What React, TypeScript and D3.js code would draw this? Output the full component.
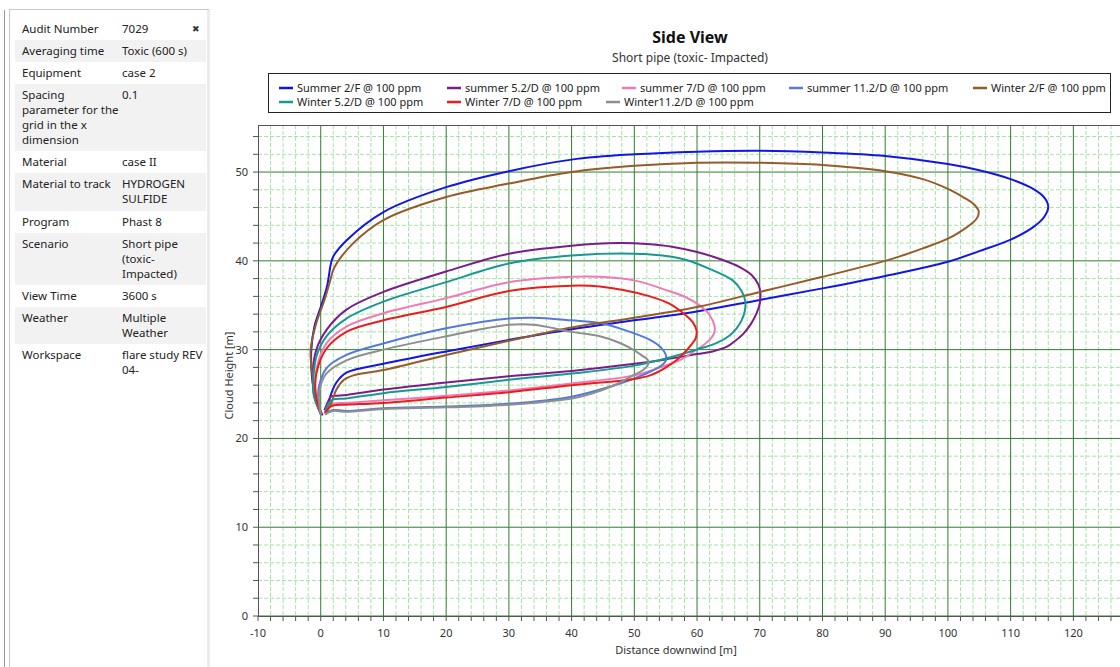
import React from "react";
import * as d3 from "d3";

// ---------- data ----------
const seriesNames = [
  "Summer 2/F @ 100 ppm",
  "summer 5.2/D @ 100 ppm",
  "summer 7/D @ 100 ppm",
  "summer 11.2/D @ 100 ppm",
  "Winter 2/F @ 100 ppm",
  "Winter 5.2/D @ 100 ppm",
  "Winter 7/D @ 100 ppm",
  "Winter11.2/D @ 100 ppm",
];
const seriesColors = ["#1414e6", "#7a1c8c", "#f07ab8", "#5578dc", "#975a2a", "#17998f", "#ee1b1b", "#8e8e8e"];

const summer2F: [number, number][] = [
  [0.3, 22.6], [-0.7, 24.3], [-1.4, 27.0], [-1.5, 30.0], [-1.0, 32.6], [0, 34.8], [1.0, 37.1], [1.6, 39.6], [2.0, 40.5],
  [4.1, 42.3], [10, 45.5], [20, 48.3], [30, 50.1], [40, 51.4], [50, 52.0], [60, 52.3], [70, 52.4], [80, 52.2], [90, 51.8],
  [100, 50.9], [105, 50.2], [110, 49.2], [113.6, 48.1], [115.4, 47.1], [116, 46.1], [115.4, 45.0], [113.6, 43.8],
  [110, 42.4], [105, 41.1], [100, 39.9], [90, 38.3], [80, 36.9],
  [70, 35.6], [60, 34.3], [50, 33.3], [40, 32.3], [30, 31.1], [20, 29.8], [10, 28.4], [4.1, 27.4], [2.5, 26.3], [1.7, 25.1],
  [1.2, 23.8], [0.7, 22.8],
];
const summer52D: [number, number][] = [
  [-0.1, 22.9], [-1.0, 24.7], [-1.3, 27.0], [-0.7, 30.0], [0.9, 32.2], [4.1, 34.5], [10, 36.5], [20, 38.8], [30, 40.8],
  [40, 41.7], [47.5, 42.0], [52, 41.9], [56, 41.6], [60, 41.0], [64.1, 40.1], [66.8, 39.3], [68.7, 38.4], [69.8, 37.3],
  [70.1, 36.3], [70, 35.2], [69.5, 34.1], [68.6, 32.9], [67.4, 31.8], [66.1, 31.0], [64.7, 30.3], [62.5, 29.8], [60, 29.5],
  [55, 28.9], [50, 28.4], [40, 27.6], [30, 27.0], [20, 26.3], [10, 25.5], [4.1, 24.9], [2.3, 24.8], [1.6, 24.7], [1.2, 24.2],
  [0.6, 23.2],
];
const summer7D: [number, number][] = [
  [0, 22.8], [-0.8, 25.0], [-0.7, 27.7], [0.9, 30.7], [4.1, 32.6], [10, 34.1], [20, 35.8], [30, 37.6], [40, 38.2], [44.5, 38.2],
  [50, 37.8], [55.1, 36.7], [58.2, 35.9], [60.4, 35.0], [62, 33.9], [62.8, 32.6], [62.7, 31.8], [62, 31.1], [61, 30.5],
  [59.9, 30.0], [57.5, 28.9], [53.7, 27.9], [50, 27.1], [40, 26.2], [30, 25.4], [20, 24.8], [10, 24.3], [4.1, 24.0], [2, 23.9],
  [1.2, 23.6], [0.7, 22.9],
];
const summer112D: [number, number][] = [
  [0, 22.7], [-0.4, 24.5], [-0.3, 25.8], [0.9, 27.9], [4.1, 29.4], [10, 30.7], [20, 32.4], [30, 33.5], [34, 33.6], [40, 33.3],
  [44.5, 33.0], [48.5, 32.2], [52.5, 31.1], [54.3, 30.2], [55.1, 29.2], [54.9, 28.6], [54.1, 28.1], [52.5, 27.5], [49, 26.5],
  [45, 25.6], [40, 24.7], [30, 23.9], [20, 23.6], [10, 23.4], [4.1, 23.1], [2, 23.2], [1.2, 23.0], [0.7, 22.7],
];
const winter2F: [number, number][] = [
  [0.2, 22.7], [-0.7, 24.3], [-1.3, 27.0], [-1.6, 30.0], [-0.7, 33.0], [0.6, 35.6], [1.4, 37.5], [2.2, 39.3], [5.2, 42.0],
  [10, 44.6], [20, 47.2], [30, 48.7], [40, 50.0], [50, 50.7], [60, 51.05], [70, 51.05], [80, 50.8], [90, 50.1], [96, 49.2],
  [100, 48.1], [102.6, 47.1], [104.1, 46.4], [104.9, 45.6], [104.7, 44.9], [103.8, 44.2], [102, 43.3], [100, 42.5],
  [96, 41.4], [92.3, 40.5], [90, 40.0], [80, 38.2], [70, 36.5], [60, 34.8], [50, 33.6],
  [40, 32.5], [30, 31.0], [20, 29.4], [10, 27.7], [5.2, 27.1], [3.7, 26.6], [2.5, 25.5], [1.7, 24.0], [1.0, 23.0],
];
const winter52D: [number, number][] = [
  [0, 22.8], [-1.1, 24.8], [-1.2, 26.0], [-0.7, 29.2], [0.9, 31.5], [4.1, 33.5], [10, 35.4], [20, 37.6], [30, 39.7],
  [40, 40.6], [50, 40.8], [55.7, 40.5], [58.3, 40.1], [62, 39.1], [65.7, 37.8], [67.1, 36.6], [67.7, 35.4], [67.6, 34.3],
  [67.1, 33.3], [66.3, 32.4], [65.2, 31.6], [63, 30.7], [60.4, 30.1], [55, 29.0], [50, 28.2], [40, 27.3], [30, 26.6],
  [20, 25.8], [10, 25.1], [4.1, 24.5], [2, 24.4], [1.3, 24.0], [0.7, 23.0],
];
const winter7D: [number, number][] = [
  [0, 22.8], [-0.8, 25.0], [-0.7, 27.3], [0.9, 30.1], [4.1, 32.0], [10, 33.3], [20, 34.8], [30, 36.6], [40, 37.2], [44.5, 37.1],
  [52.5, 36.0], [55.5, 35.2], [57.8, 34.1], [59.3, 33.1], [59.9, 32.2], [59.8, 31.3], [58.9, 30.4], [57.9, 29.6],
  [56.7, 28.8], [54.8, 27.9], [52.5, 27.1], [50, 26.7], [40, 26.0], [30, 25.2], [20, 24.6], [10, 24.0], [4.1, 23.8], [2, 23.7],
  [1.2, 23.4], [0.7, 22.9],
];
const winter112D: [number, number][] = [
  [0, 22.7], [-0.3, 24.5], [0, 26.0], [0.9, 27.3], [4.1, 28.8], [10, 30.0], [20, 31.5], [30, 32.8], [34, 32.8], [40, 32.0],
  [44.5, 31.5], [47.5, 30.8], [49.8, 30.0], [51.3, 29.3], [52.2, 28.8], [52.1, 28.2], [51.4, 27.7], [49.5, 27.0],
  [46.5, 25.9], [43, 25.0], [40, 24.5], [30, 23.8], [20, 23.5], [10, 23.3], [4.1, 23.0], [2, 23.1], [1.2, 22.9], [0.7, 22.7],
];
const seriesData = [summer2F, summer52D, summer7D, summer112D, winter2F, winter52D, winter7D, winter112D];

const xTickValues = [-10, 0, 10, 20, 30, 40, 50, 60, 70, 80, 90, 100, 110, 120];
const yTickValues = [0, 10, 20, 30, 40, 50];

const infoLabels = [
  ["Audit Number"], ["Averaging time"], ["Equipment"], ["Spacing", "parameter for the", "grid in the x", "dimension"],
  ["Material"], ["Material to track"], ["Program"], ["Scenario"], ["View Time"], ["Weather"], ["Workspace"],
];
const infoValues = [
  ["7029"], ["Toxic (600 s)"], ["case 2"], ["0.1"], ["case II"], ["HYDROGEN", "SULFIDE"], ["Phast 8"],
  ["Short pipe", "(toxic-", "Impacted)"], ["3600 s"], ["Multiple", "Weather"], ["flare study REV", "04-"],
];

// ---------- layout ----------
const W = 1120, H = 667;
const plot = { left: 258, top: 125, bottom: 616 };
const legendCols = [[279, 447, 622, 789, 973], [279, 447, 606]];
const legendRowsY = [88, 102];
const rowTops = [18, 40, 62, 84, 151, 173, 211, 233, 285, 307, 344];
const rowBottoms = [40, 62, 84, 151, 173, 211, 233, 285, 307, 344, 400];

const FONT = "'Segoe UI', 'Noto Sans', 'Open Sans', sans-serif";

export default function App() {
  const x = d3.scaleLinear().domain([-10, 130]).range([plot.left, plot.left + 140 * 6.272]);
  const y = d3.scaleLinear().domain([0, 55.3]).range([plot.bottom, plot.top]);
  const line = d3
    .line<[number, number]>()
    .x((d) => x(d[0]))
    .y((d) => y(d[1]))
    .curve(d3.curveCatmullRom.alpha(0.5));

  const minorX = d3.range(-10, 131, 2).filter((v) => v % 10 !== 0);
  const minorY = d3.range(0, 55.3, 2).filter((v) => v % 10 !== 0);
  const majorX = d3.range(-10, 131, 10);
  const majorY = d3.range(0, 56, 10);
  const tickX = d3.range(-10, 131, 2);
  const tickY = d3.range(0, 55.3, 2);

  const legendItems: { name: string; color: string; lx: number; ly: number }[] = [];
  let idx = 0;
  legendCols.forEach((cols, r) =>
    cols.forEach((cx) => {
      legendItems.push({ name: seriesNames[idx], color: seriesColors[idx], lx: cx, ly: legendRowsY[r] });
      idx++;
    })
  );

  return (
    <svg
      width={W}
      height={H}
      style={{ position: "absolute", left: 0, top: 0, background: "#fff" }}
      fontFamily={FONT}
    >
      {/* left info panel */}
      <line x1={4.5} y1={10} x2={4.5} y2={H} stroke="#9a9a9a" />
      <rect x={9.5} y={9.5} width={199} height={H} fill="#fff" stroke="#c8c8c8" />
      <rect x={207} y={10} width={3} height={H} fill="#ececec" />
      {rowTops.map((t, i) => (
        <rect key={"rb" + i} x={15} y={t} width={191} height={rowBottoms[i] - t} fill={i % 2 === 1 ? "#f2f2f2" : "#ffffff"} />
      ))}
      {infoLabels.map((lines, i) =>
        lines.map((s, j) => (
          <text key={"il" + i + "-" + j} x={22} y={rowTops[i] + 15 + j * 15} fontSize={11.5} fill="#222">
            {s}
          </text>
        ))
      )}
      {infoValues.map((lines, i) =>
        lines.map((s, j) => (
          <text key={"iv" + i + "-" + j} x={122} y={rowTops[i] + 15 + j * 15} fontSize={11.5} fill="#222">
            {s}
          </text>
        ))
      )}
      <text x={196} y={32} fontSize={9} fill="#333" textAnchor="middle">✖</text>

      {/* title */}
      <text x={690} y={43} textAnchor="middle" fontSize={16} fontWeight="bold" fill="#111">Side View</text>
      <text x={690} y={62} textAnchor="middle" fontSize={12} fill="#333">Short pipe (toxic- Impacted)</text>

      {/* legend */}
      <rect x={268.5} y={73.5} width={842} height={39} fill="#fff" stroke="#222" />
      {legendItems.map((it, i) => (
        <g key={"lg" + i}>
          <line x1={it.lx} x2={it.lx + 14} y1={it.ly} y2={it.ly} stroke={it.color} strokeWidth={2.5} />
          <text x={it.lx + 18} y={it.ly + 4} fontSize={11} fill="#222">{it.name}</text>
        </g>
      ))}

      {/* grid */}
      <defs>
        <clipPath id="plotclip">
          <rect x={plot.left} y={plot.top} width={W - plot.left} height={plot.bottom - plot.top} />
        </clipPath>
      </defs>
      <g clipPath="url(#plotclip)">
        {minorX.map((v) => (
          <line key={"mx" + v} x1={x(v)} x2={x(v)} y1={plot.top} y2={plot.bottom} stroke="#a6e4a6" strokeDasharray="4,2" strokeWidth={1} />
        ))}
        {minorY.map((v) => (
          <line key={"my" + v} x1={plot.left} x2={W} y1={y(v)} y2={y(v)} stroke="#a6e4a6" strokeDasharray="4,2" strokeWidth={1} />
        ))}
        {majorX.map((v) => (
          <line key={"Mx" + v} x1={x(v)} x2={x(v)} y1={plot.top} y2={plot.bottom} stroke="#2f7d2f" strokeWidth={1} />
        ))}
        {majorY.map((v) => (
          <line key={"My" + v} x1={plot.left} x2={W} y1={y(v)} y2={y(v)} stroke="#2f7d2f" strokeWidth={1} />
        ))}
        {seriesData.map((d, i) => (
          <path key={"s" + i} d={line(d) || ""} fill="none" stroke={seriesColors[i]} strokeWidth={2} strokeLinejoin="round" />
        ))}
      </g>

      {/* frame & axes */}
      <line x1={plot.left} x2={W} y1={plot.top + 0.5} y2={plot.top + 0.5} stroke="#555" />
      <line x1={plot.left + 0.5} x2={plot.left + 0.5} y1={plot.top} y2={plot.bottom} stroke="#555" />
      <line x1={plot.left} x2={W} y1={plot.bottom + 0.5} y2={plot.bottom + 0.5} stroke="#555" />
      {tickX.map((v) => (
        <line key={"tx" + v} x1={x(v)} x2={x(v)} y1={plot.bottom} y2={plot.bottom + 5} stroke="#555" />
      ))}
      {tickY.map((v) => (
        <line key={"ty" + v} x1={plot.left - 5} x2={plot.left} y1={y(v)} y2={y(v)} stroke="#555" />
      ))}
      {xTickValues.map((v) => (
        <text key={"xl" + v} x={x(v)} y={637} textAnchor="middle" fontSize={11} fill="#333">{v}</text>
      ))}
      {yTickValues.map((v) => (
        <text key={"yl" + v} x={248} y={y(v) + 4} textAnchor="end" fontSize={11} fill="#333">{v}</text>
      ))}
      <text x={676} y={654} textAnchor="middle" fontSize={11} fill="#333">Distance downwind [m]</text>
      <text transform={`translate(233, ${(plot.top + plot.bottom) / 2 + 5}) rotate(-90)`} textAnchor="middle" fontSize={11} fill="#333">
        Cloud Height [m]
      </text>
    </svg>
  );
}
